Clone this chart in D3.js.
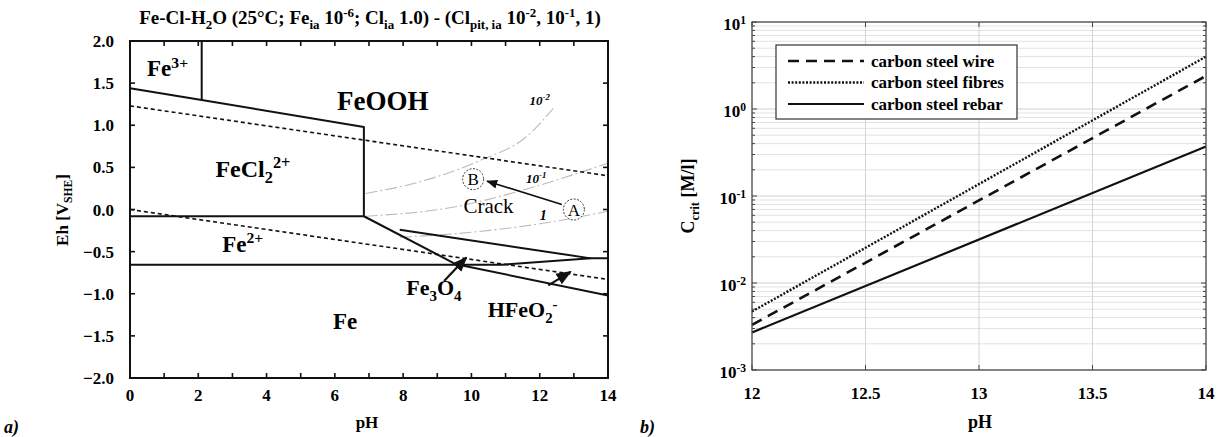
<!DOCTYPE html>
<html>
<head>
<meta charset="utf-8">
<script src="https://cdn.jsdelivr.net/npm/d3@7"></script>
<style>
  body { margin: 0; background: #fff; }
  text { font-family: "Liberation Serif", "Times New Roman", serif; }
</style>
</head>
<body>
<svg id="chart" width="1218" height="437"></svg>
<script>
/* ---- data: panel a) Pourbaix diagram (pH, Eh) ---- */
const phTicksA = d3.range(0, 15, 1);
const phLabelsA = [0, 2, 4, 6, 8, 10, 12, 14];
const ehTicks = [-2, -1.5, -1, -0.5, 0, 0.5, 1, 1.5, 2];

const fe3Boundary = [[2.1, 2.0], [2.1, 1.30]];
const feoohBoundary = [[0, 1.44], [2.1, 1.30], [6.85, 0.98], [6.85, -0.08]];
const fecl2Bottom = [[0, -0.08], [6.85, -0.08]];
const fe3o4Upper = [[7.9, -0.24], [13.5, -0.58], [14, -0.58]];
const hfeo2Line = [[6.85, -0.08], [9.55, -0.65], [14, -1.02]];
const feLine = [[0, -0.655], [10.9, -0.655], [13.5, -0.58]];
const waterUpper = [[0, 1.23], [14, 0.40]];
const waterLower = [[0, 0.0], [14, -0.83]];

const pitCurve2 = [[6.9, 0.19], [8.5, 0.33], [10.3, 0.59], [11.6, 0.86], [12.4, 1.2]];
const pitCurve1 = [[6.9, -0.08], [9.5, 0.03], [11.5, 0.23], [14, 0.55]];
const pitCurve0 = [[7.9, -0.33], [10, -0.27], [12, -0.17], [14, -0.02]];

/* ---- data: panel b) critical chloride vs pH ---- */
const phTicksB = [12, 12.5, 13, 13.5, 14];
const phSeriesB = [12, 14];
const wireValues = [0.0033, 2.4];
const fibreValues = [0.0047, 4.0];
const rebarValues = [0.0027, 0.37];
const decadeTicks = [1e-3, 1e-2, 1e-1, 1e0, 1e1];
const decadeExps = ["-3", "-2", "-1", "0", "1"];
const legendLabels = ["carbon steel wire", "carbon steel fibres", "carbon steel rebar"];

const svg = d3.select("#chart");

// write text made of normal / sup / sub pieces
function rich(sel, parts, size) {
  let shift = 0;
  parts.forEach(function(p) {
    let t = p[0], kind = p[1] || "n";
    let target = kind === "sup" ? -0.38 * size : kind === "sub" ? 0.25 * size : 0;
    sel.append("tspan")
      .attr("dy", target - shift)
      .style("font-size", (kind === "n" ? size : size * 0.68) + "px")
      .text(t);
    shift = target;
  });
  return sel;
}

/* ================= PANEL A ================= */
let x = d3.scaleLinear().domain([0, 14]).range([130, 608]);
let y = d3.scaleLinear().domain([-2, 2]).range([378, 41]);
let line = d3.line().x(d => x(d[0])).y(d => y(d[1]));
let gA = svg.append("g");

//pit curves (grey dash-dot)
[pitCurve2, pitCurve1, pitCurve0].forEach(function(c) {
  gA.append("path")
    .attr("d", d3.line().x(d => x(d[0])).y(d => y(d[1])).curve(d3.curveMonotoneX)(c))
    .attr("fill", "none")
    .attr("stroke", "#bbb")
    .attr("stroke-width", 1.1)
    .attr("stroke-dasharray", "12,3,2,3");
});

//water lines
[waterUpper, waterLower].forEach(function(c) {
  gA.append("path").attr("d", line(c))
    .attr("fill", "none").attr("stroke", "#111")
    .attr("stroke-width", 1.6).attr("stroke-dasharray", "4,3");
});

//phase boundaries
[fe3Boundary, feoohBoundary, fecl2Bottom, fe3o4Upper, hfeo2Line, feLine].forEach(function(c) {
  gA.append("path").attr("d", line(c))
    .attr("fill", "none").attr("stroke", "#111")
    .attr("stroke-width", 2).attr("stroke-linejoin", "round");
});

//frame and ticks
gA.append("rect").attr("x", 130).attr("y", 41).attr("width", 478).attr("height", 337)
  .attr("fill", "none").attr("stroke", "#111").attr("stroke-width", 2);
phTicksA.forEach(function(t) {
  gA.append("line").attr("x1", x(t)).attr("x2", x(t)).attr("y1", 378).attr("y2", 373)
    .attr("stroke", "#111").attr("stroke-width", 1.6);
  gA.append("line").attr("x1", x(t)).attr("x2", x(t)).attr("y1", 41).attr("y2", 46)
    .attr("stroke", "#111").attr("stroke-width", 1.6);
});
ehTicks.forEach(function(t) {
  gA.append("line").attr("x1", 130).attr("x2", 135).attr("y1", y(t)).attr("y2", y(t))
    .attr("stroke", "#111").attr("stroke-width", 1.6);
  gA.append("line").attr("x1", 608).attr("x2", 603).attr("y1", y(t)).attr("y2", y(t))
    .attr("stroke", "#111").attr("stroke-width", 1.6);
  gA.append("text").attr("x", 114).attr("y", y(t) + 6)
    .attr("text-anchor", "end").style("font-size", "17px").style("font-weight", "bold")
    .text(d3.format(".1f")(t));
});
phLabelsA.forEach(function(t) {
  gA.append("text").attr("x", x(t)).attr("y", 401)
    .attr("text-anchor", "middle").style("font-size", "17px").style("font-weight", "bold")
    .text(t);
});
gA.append("text").attr("x", 367).attr("y", 428).attr("text-anchor", "middle")
  .style("font-size", "17px").style("font-weight", "bold").text("pH");
rich(gA.append("text").attr("transform", "translate(68,210) rotate(-90)")
  .attr("text-anchor", "middle").style("font-weight", "bold"),
  [["Eh [V"], ["SHE", "sub"], ["]"]], 17);

//title
rich(gA.append("text").attr("x", 370).attr("y", 24).attr("text-anchor", "middle")
  .style("font-weight", "bold"),
  [["Fe-Cl-H"], ["2", "sub"], ["O (25°C; Fe"], ["ia", "sub"], [" 10"], ["-6", "sup"],
   ["; Cl"], ["ia", "sub"], [" 1.0) - (Cl"], ["pit, ia", "sub"], [" 10"], ["-2", "sup"],
   [", 10"], ["-1", "sup"], [", 1)"]], 19);

//region labels
function label(px, py, parts, size) {
  return rich(gA.append("text").attr("x", px).attr("y", py).attr("text-anchor", "middle")
    .style("font-weight", "bold"), parts, size);
}
label(x(1.1), y(1.58), [["Fe"], ["3+", "sup"]], 23);
label(x(7.4), y(1.18), [["FeOOH"]], 27);
label(x(3.6), y(0.38), [["FeCl"], ["2", "sub"], ["2+", "sup"]], 24);
label(x(3.3), y(-0.5), [["Fe"], ["2+", "sup"]], 23);
label(x(6.3), y(-1.42), [["Fe"]], 23);
label(x(8.9), y(-1.02), [["Fe"], ["3", "sub"], ["O"], ["4", "sub"]], 22);
label(x(11.5), y(-1.28), [["HFeO"], ["2", "sub"], ["-", "sup"]], 22);

//pit curve labels
rich(gA.append("text").attr("x", x(12.0)).attr("y", y(1.24)).attr("text-anchor", "middle")
  .style("font-weight", "bold").style("font-style", "italic"), [["10"], ["-2", "sup"]], 13);
rich(gA.append("text").attr("x", x(11.9)).attr("y", y(0.32)).attr("text-anchor", "middle")
  .style("font-weight", "bold").style("font-style", "italic"), [["10"], ["-1", "sup"]], 13);
gA.append("text").attr("x", x(12.1)).attr("y", y(-0.12)).attr("text-anchor", "middle")
  .style("font-weight", "bold").style("font-style", "italic").style("font-size", "14px").text("1");

//points A / B and crack arrow
let defs = svg.append("defs");
defs.append("marker").attr("id", "head").attr("viewBox", "0 0 10 10")
  .attr("refX", 9).attr("refY", 5).attr("markerWidth", 7).attr("markerHeight", 7)
  .attr("orient", "auto-start-reverse")
  .append("path").attr("d", "M0,1 L10,5 L0,9 Z").attr("fill", "#111");

let pA = [13.0, 0.0], pB = [10.05, 0.36];
[[pA, "A"], [pB, "B"]].forEach(function(p) {
  gA.append("circle").attr("cx", x(p[0][0])).attr("cy", y(p[0][1])).attr("r", 10.5)
    .attr("fill", "#fff").attr("stroke", "#333").attr("stroke-width", 1)
    .attr("stroke-dasharray", "2,1.5");
  gA.append("text").attr("x", x(p[0][0])).attr("y", y(p[0][1]) + 6)
    .attr("text-anchor", "middle").style("font-size", "17px").text(p[1]);
});
gA.append("line").attr("x1", x(pA[0]) - 12).attr("y1", y(pA[1]) - 5)
  .attr("x2", x(pB[0]) + 14).attr("y2", y(pB[1]) + 2)
  .attr("stroke", "#111").attr("stroke-width", 1.6).attr("marker-end", "url(#head)");
gA.append("text").attr("x", x(10.5)).attr("y", 213).attr("text-anchor", "middle")
  .style("font-size", "21px").text("Crack");

//label arrows
[[[9.2, -0.85], [9.85, -0.57]], [[12.25, -0.9], [12.9, -0.74]]].forEach(function(a) {
  gA.append("line").attr("x1", x(a[0][0])).attr("y1", y(a[0][1]))
    .attr("x2", x(a[1][0])).attr("y2", y(a[1][1]))
    .attr("stroke", "#111").attr("stroke-width", 2.2).attr("marker-end", "url(#head)");
});

svg.append("text").attr("x", 4).attr("y", 433)
  .style("font-size", "18px").style("font-weight", "bold").style("font-style", "italic").text("a)");

/* ================= PANEL B ================= */
let xb = d3.scaleLinear().domain([12, 14]).range([752, 1206]);
let yb = d3.scaleLog().domain([1e-3, 1e1]).range([370, 22]);
let gB = svg.append("g");

//grid
let minor = [];
decadeTicks.slice(0, 4).forEach(function(d) {
  for (let k = 2; k <= 9; k++) minor.push(d * k);
});
minor.forEach(function(v) {
  gB.append("line").attr("x1", 752).attr("x2", 1206).attr("y1", yb(v)).attr("y2", yb(v))
    .attr("stroke", "#e2e2e2").attr("stroke-width", 1);
});
decadeTicks.forEach(function(v) {
  gB.append("line").attr("x1", 752).attr("x2", 1206).attr("y1", yb(v)).attr("y2", yb(v))
    .attr("stroke", "#cfcfcf").attr("stroke-width", 1);
});
phTicksB.forEach(function(t) {
  gB.append("line").attr("x1", xb(t)).attr("x2", xb(t)).attr("y1", 22).attr("y2", 370)
    .attr("stroke", "#d4d4d4").attr("stroke-width", 1);
});

//series
let lineB = d3.line().x(d => xb(d[0])).y(d => yb(d[1]));
let series = [
  {vals: wireValues, dash: "11,7", w: 2.6},
  {vals: fibreValues, dash: "2,1.6", w: 2.4},
  {vals: rebarValues, dash: null, w: 2.2}
];
series.forEach(function(s) {
  gB.append("path")
    .attr("d", lineB(phSeriesB.map((p, i) => [p, s.vals[i]])))
    .attr("fill", "none").attr("stroke", "#111").attr("stroke-width", s.w)
    .attr("stroke-dasharray", s.dash);
});

//frame & ticks
gB.append("rect").attr("x", 752).attr("y", 22).attr("width", 454).attr("height", 348)
  .attr("fill", "none").attr("stroke", "#444").attr("stroke-width", 1.2);
minor.forEach(function(v) {
  gB.append("line").attr("x1", 752).attr("x2", 755).attr("y1", yb(v)).attr("y2", yb(v)).attr("stroke", "#444");
  gB.append("line").attr("x1", 1206).attr("x2", 1203).attr("y1", yb(v)).attr("y2", yb(v)).attr("stroke", "#444");
});
decadeTicks.forEach(function(v, i) {
  gB.append("line").attr("x1", 752).attr("x2", 757).attr("y1", yb(v)).attr("y2", yb(v)).attr("stroke", "#444");
  gB.append("line").attr("x1", 1206).attr("x2", 1201).attr("y1", yb(v)).attr("y2", yb(v)).attr("stroke", "#444");
  rich(gB.append("text").attr("x", 746).attr("y", yb(v) + 8).attr("text-anchor", "end")
    .style("font-weight", "bold"), [["10"], [decadeExps[i], "sup"]], 17);
});
phTicksB.forEach(function(t) {
  gB.append("line").attr("x1", xb(t)).attr("x2", xb(t)).attr("y1", 370).attr("y2", 365).attr("stroke", "#444");
  gB.append("line").attr("x1", xb(t)).attr("x2", xb(t)).attr("y1", 22).attr("y2", 27).attr("stroke", "#444");
  gB.append("text").attr("x", xb(t)).attr("y", 399).attr("text-anchor", "middle")
    .style("font-size", "17px").style("font-weight", "bold").text(t);
});
gB.append("text").attr("x", 980).attr("y", 428).attr("text-anchor", "middle")
  .style("font-size", "18px").style("font-weight", "bold").text("pH");
rich(gB.append("text").attr("transform", "translate(694,196) rotate(-90)")
  .attr("text-anchor", "middle").style("font-weight", "bold"),
  [["C"], ["crit", "sub"], [" [M/l]"]], 18);

//legend
gB.append("rect").attr("x", 776).attr("y", 45).attr("width", 241).attr("height", 74)
  .attr("fill", "#fff").attr("stroke", "#333").attr("stroke-width", 1.2);
series.forEach(function(s, i) {
  let ly = 61 + i * 21.5;
  gB.append("line").attr("x1", 788).attr("x2", 864).attr("y1", ly).attr("y2", ly)
    .attr("stroke", "#111").attr("stroke-width", s.w).attr("stroke-dasharray", s.dash);
  gB.append("text").attr("x", 871).attr("y", ly + 5.5)
    .style("font-size", "17px").style("font-weight", "bold").text(legendLabels[i]);
});

svg.append("text").attr("x", 640).attr("y", 433)
  .style("font-size", "18px").style("font-weight", "bold").style("font-style", "italic").text("b)");
</script>
</body>
</html>
